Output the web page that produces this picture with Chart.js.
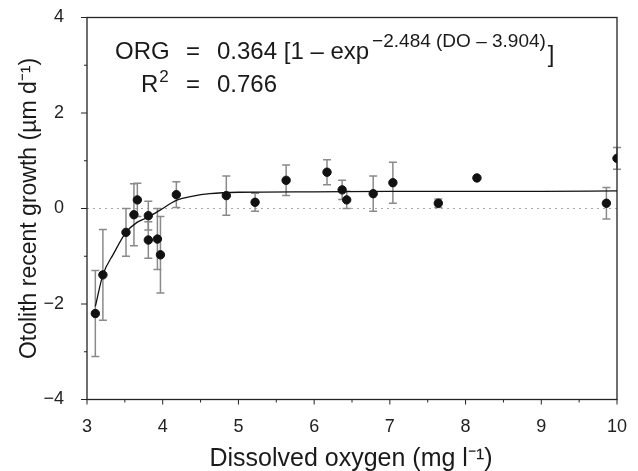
<!DOCTYPE html>
<html>
<head>
<meta charset="utf-8">
<script src="https://cdn.jsdelivr.net/npm/chart.js@4.4.1/dist/chart.umd.min.js"></script>
<style>
  html, body { margin: 0; padding: 0; background: #fff; }
  #wrap { width: 638px; height: 471px; }
</style>
</head>
<body>
<div id="wrap"><canvas id="myChart" width="638" height="471"></canvas></div>
<script>
// dissolved oxygen (mg l-1), recent growth (um d-1), half error bar
const doValues  = [3.11, 3.21, 3.515, 3.62, 3.665, 3.81, 3.81, 3.93, 3.97, 4.18,
                   4.84, 5.22, 5.63, 6.17, 6.37, 6.43, 6.78, 7.04, 7.64, 8.15, 9.86, 10.0];
const orgValues = [-2.2, -1.39, -0.5, -0.13, 0.18, -0.15, -0.66, -0.64, -0.97, 0.29,
                   0.27, 0.13, 0.59, 0.76, 0.39, 0.18, 0.31, 0.54, 0.11, 0.64, 0.11, 1.05];
const orgErrors = [0.9, 0.95, 0.5, 0.65, 0.35, 0.3, 0.38, 0.64, 0.8, 0.27,
                   0.41, 0.19, 0.32, 0.26, 0.2, 0.18, 0.37, 0.43, 0.09, 0, 0.33, 0.23];

// fitted curve
const fitX = [3.11, 3.21, 3.35, 3.515, 3.66, 3.81, 3.96, 4.18, 4.4, 4.62, 5, 6, 7, 8, 9, 10];
const fitY = [-2.05, -1.39, -0.95, -0.5, -0.29, -0.18, -0.04, 0.17, 0.26, 0.31, 0.34, 0.35, 0.36, 0.36, 0.36, 0.37];

const xTicks = [3, 4, 5, 6, 7, 8, 9, 10];
const yTicks = [-4, -2, 0, 2, 4];

const FONT = "'Liberation Sans', Arial, sans-serif";

const points = doValues.map((x, i) => ({ x: x, y: orgValues[i] }));
const curve = fitX.map((x, i) => ({ x: x, y: fitY[i] }));

const decorPlugin = {
  id: 'decor',
  beforeDatasetsDraw(chart) {
    const { ctx, chartArea: a, scales: { x, y } } = chart;
    ctx.save();
    // dotted zero line
    ctx.strokeStyle = '#aaa';
    ctx.lineWidth = 1;
    ctx.setLineDash([2, 4]);
    ctx.beginPath();
    ctx.moveTo(a.left, y.getPixelForValue(0));
    ctx.lineTo(a.right, y.getPixelForValue(0));
    ctx.stroke();
    ctx.setLineDash([]);

    // error bars
    orgErrors.forEach((e, i) => {
      if (!e) return;
      const px = x.getPixelForValue(doValues[i]);
      const top = y.getPixelForValue(Math.min(orgValues[i] + e, 4));
      const bot = y.getPixelForValue(Math.max(orgValues[i] - e, -4));
      ctx.strokeStyle = '#8a8a8a';
      ctx.lineWidth = 1.5;
      ctx.beginPath();
      ctx.moveTo(px, top); ctx.lineTo(px, bot);
      ctx.moveTo(px - 4, top); ctx.lineTo(px + 4, top);
      ctx.moveTo(px - 4, bot); ctx.lineTo(px + 4, bot);
      ctx.stroke();
    });

    // frame
    ctx.strokeStyle = '#222';
    ctx.lineWidth = 1.3;
    ctx.strokeRect(a.left, a.top, a.right - a.left, a.bottom - a.top);

    // outward ticks
    ctx.lineWidth = 1;
    for (let v = 3; v <= 10; v += 0.5) {
      const px = x.getPixelForValue(v);
      const len = Number.isInteger(v) ? 5 : 3;
      ctx.beginPath();
      ctx.moveTo(px, a.bottom); ctx.lineTo(px, a.bottom + len);
      ctx.stroke();
    }
    for (let v = -4; v <= 4; v += 1) {
      const py = y.getPixelForValue(v);
      const len = v % 2 === 0 ? 6 : 3;
      ctx.beginPath();
      ctx.moveTo(a.left - len, py); ctx.lineTo(a.left, py);
      ctx.stroke();
    }
    ctx.restore();
  },
  afterDraw(chart) {
    const { ctx, chartArea: a } = chart;
    ctx.save();
    ctx.fillStyle = '#1a1a1a';
    ctx.textBaseline = 'alphabetic';
    ctx.textAlign = 'left';

    // equation
    ctx.font = '24px ' + FONT;
    ctx.fillText('ORG', 115, 59);
    ctx.fillText('=', 186, 59);
    const main = '0.364 [1 \u2013 exp';
    ctx.fillText(main, 217, 59);
    let xs = 217 + ctx.measureText(main).width + 3;
    ctx.font = '19px ' + FONT;
    const sup = '\u22122.484 (DO \u2013 3.904)';
    ctx.fillText(sup, xs, 47);
    xs += ctx.measureText(sup).width + 2;
    ctx.font = '24px ' + FONT;
    ctx.fillText(']', xs, 62);

    ctx.fillText('R', 141, 92);
    const wr = ctx.measureText('R').width;
    ctx.fillText('=', 186, 92);
    ctx.fillText('0.766', 217, 92);
    ctx.font = '17px ' + FONT;
    ctx.fillText('2', 141 + wr + 1, 82);

    // axis titles
    ctx.font = '25px ' + FONT;
    ctx.textAlign = 'center';
    ctx.fillText('Dissolved oxygen (mg l\u207B\u00B9)', 351, 466);
    ctx.save();
    ctx.translate(36, (a.top + a.bottom) / 2);
    ctx.rotate(-Math.PI / 2);
    ctx.font = '23px ' + FONT;
    ctx.fillText('Otolith recent growth (\u00B5m d\u207B\u00B9)', 0, 0);
    ctx.restore();
    ctx.restore();
  }
};

new Chart(document.getElementById('myChart').getContext('2d'), {
  type: 'scatter',
  data: {
    datasets: [
      {
        label: 'fit',
        data: curve,
        showLine: true,
        borderColor: '#111',
        borderWidth: 1.3,
        pointRadius: 0,
        cubicInterpolationMode: 'monotone',
        order: 2
      },
      {
        label: 'growth',
        data: points,
        backgroundColor: '#111',
        borderColor: '#111',
        pointRadius: 4.2,
        order: 1
      }
    ]
  },
  options: {
    responsive: false,
    animation: false,
    events: [],
    layout: { padding: { top: 17.5, right: 21, left: 0, bottom: 0 } },
    plugins: { legend: { display: false }, tooltip: { enabled: false } },
    scales: {
      x: {
        type: 'linear',
        min: 3,
        max: 10,
        afterBuildTicks: (s) => { s.ticks = xTicks.map(v => ({ value: v })); },
        afterFit: (s) => { s.height = 71.5; s.paddingLeft = 0; s.paddingRight = 0; },
        grid: { display: false },
        border: { display: false },
        ticks: { color: '#222', font: { family: FONT, size: 18 }, padding: 9 }
      },
      y: {
        min: -4,
        max: 4,
        afterBuildTicks: (s) => { s.ticks = yTicks.map(v => ({ value: v })); },
        afterFit: (s) => { s.width = 87; s.paddingTop = 0; s.paddingBottom = 0; },
        grid: { display: false },
        border: { display: false },
        ticks: {
          color: '#222',
          font: { family: FONT, size: 18 },
          padding: 15,
          callback: (v) => String(v).replace('-', '\u2212')
        }
      }
    }
  },
  plugins: [decorPlugin]
});
</script>
</body>
</html>
